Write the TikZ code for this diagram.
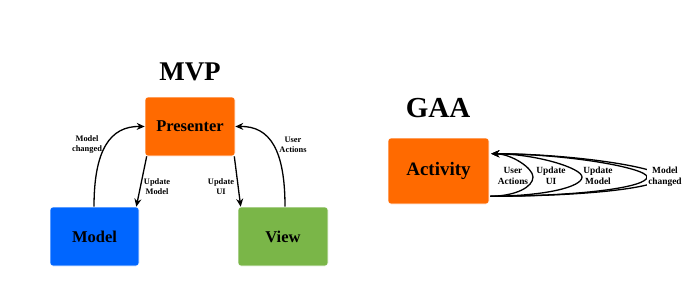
\documentclass[tikz,border=0pt]{standalone}
\usepackage{fontspec}
\setmainfont{Liberation Serif}
\usetikzlibrary{arrows.meta,calc}
\definecolor{orng}{RGB}{255,106,0}
\definecolor{blu}{RGB}{0,102,255}
\definecolor{grn}{RGB}{122,182,72}
\begin{document}
\begin{tikzpicture}[x=1pt,y=-1pt,
  box/.style={rounded corners=3pt,draw=white,line width=0.6pt,inner sep=0pt,font=\bfseries\fontsize{16.5}{18}\selectfont},
  ttl/.style={font=\bfseries\fontsize{27}{30}\selectfont},
  lbl/.style={font=\bfseries\fontsize{8.4}{10}\selectfont,align=center,inner sep=1pt},
  glbl/.style={font=\bfseries\fontsize{9.4}{10.7}\selectfont,align=center,inner sep=1pt},
  arr/.style={line width=1.3pt,-{Stealth[length=8pt,width=7pt]}}]
\useasboundingbox (0,0) rectangle (700,293);
% MVP
\node[ttl] (mvp) at (190,72) {MVP};
\node[box,fill=orng,minimum width=90pt,minimum height=59pt] (pres) at (190,126.5) {Presenter};
\node[box,fill=blu,minimum width=89pt,minimum height=59pt] (model) at (94.5,236.5) {Model};
\node[box,fill=grn,minimum width=90pt,minimum height=59pt] (view) at (283,236.5) {View};
\draw[arr] ($(model.north)+(-0.5,0)$) .. controls (94,150) and (110,126) .. (pres.west);
\draw[arr] ($(pres.south west)+(2,0)$) -- ($(model.north east)+(-3,0)$);
\draw[arr] ($(pres.south east)+(-1,0)$) -- ($(view.north west)+(3,0)$);
\draw[arr] ($(view.north)+(2,0)$) .. controls (285,150) and (270,126) .. (pres.east);
\node[lbl] (l1) at (87,145) {Model\\changed};
\node[lbl] (l2) at (157,187) {Update\\Model};
\node[lbl] (l3) at (221,187) {Update\\UI};
\node[lbl] (l4) at (293,145) {User\\Actions};
% GAA
\node[ttl,font=\bfseries\fontsize{29}{32}\selectfont] (gaa) at (438,108) {GAA};
\node[box,fill=orng,minimum width=101pt,minimum height=66pt,font=\bfseries\fontsize{19}{21}\selectfont] (act) at (438.5,171) {Activity};
\coordinate (s) at ($(act.south east)+(1,-8)$);
\coordinate (e) at ($(act.north east)+(2,16)$);
\foreach \T in {533,582,647,662}{
  \draw[arr] (s) .. controls ({490+0.6*(\T-490)},196) and (\T,187) .. (\T,177)
                 .. controls (\T,168) and ({490+0.5*(\T-490)},154) .. (e);
}
\node[glbl] (g1) at (513,176) {User\\Actions};
\node[glbl] (g2) at (551,176) {Update\\UI};
\node[glbl] (g3) at (598,176) {Update\\Model};
\node[glbl,fill=white] (g4) at (665,177) {Model\\changed};
\end{tikzpicture}
\end{document}
